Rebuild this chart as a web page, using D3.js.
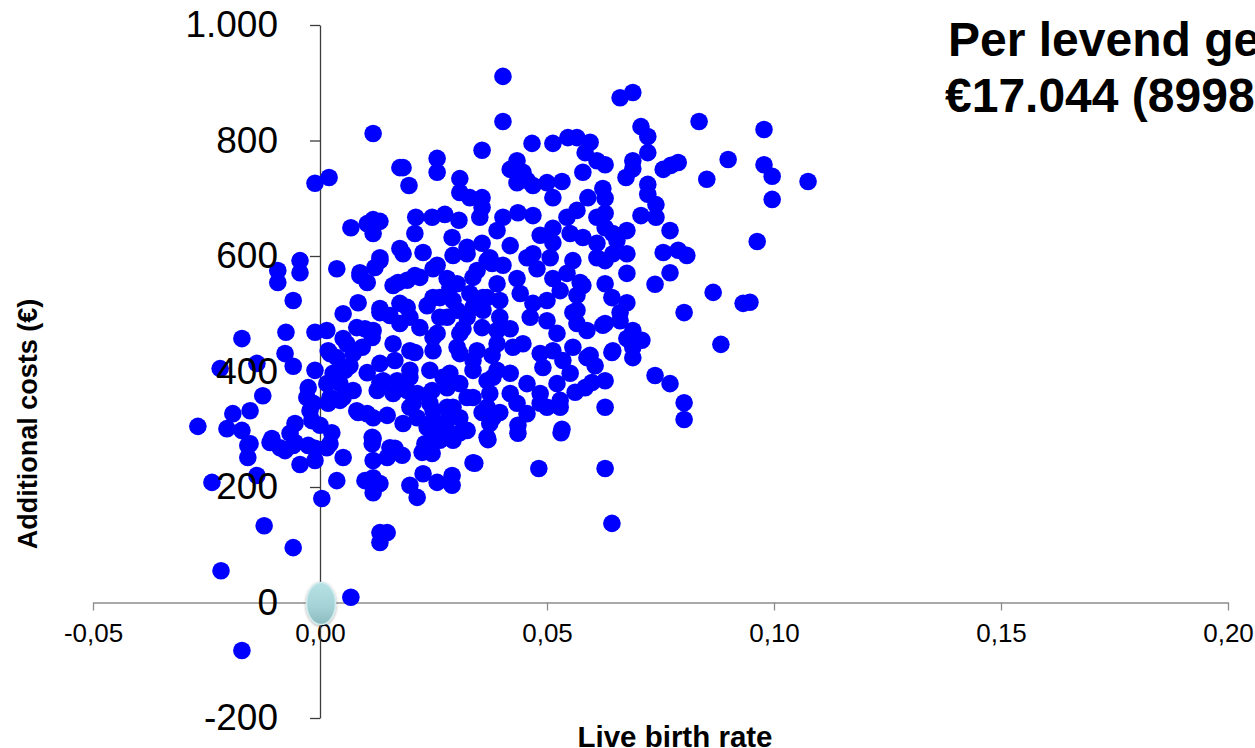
<!DOCTYPE html>
<html lang="en">
<head>
<meta charset="UTF-8">
<title>Live birth rate vs additional costs</title>
<script src="https://d3js.org/d3.v7.min.js"></script>
<style>
  html, body { margin: 0; padding: 0; background: #fff; overflow: hidden; }
  svg { display: block; font-family: "Liberation Sans", Arial, sans-serif; }
</style>
</head>
<body>
<div id="chart"></div>
<script>
// tick values of both axes
const xTicks = [-0.05, 0, 0.05, 0.10, 0.15, 0.20];
const yTicks = [-200, 0, 200, 400, 600, 800, 1000];
const titleLines = ["Per levend geboren", "€17.044 (8998"];
const xTitle = "Live birth rate";
const yTitle = "Additional costs (€)";
// reference point (base case)
const basePoint = [0, 0];

// bootstrap samples: [live birth rate difference, additional costs]
const samples = [
  [-0.0269,305],[-0.0238,208],[-0.0218,55],[-0.0172,-83],[-0.0220,405],[-0.0172,457],[-0.0139,414],[-0.0126,358],
  [-0.0192,327],[-0.0154,332],[-0.0205,301],[-0.0172,298],[-0.0154,275],[-0.0106,284],[-0.0093,575],[-0.0093,554],
  [-0.0044,592],[-0.0044,571],[-0.0059,523],[-0.0075,468],[-0.0077,431],[-0.0059,409],[-0.0011,402],[-0.0011,468],
  [0.0015,471],[0.0037,578],[-0.0026,372],[-0.0029,355],[-0.0015,345],[0.0018,345],[0.0044,350],
  [0.0088,571],[0.0104,554],[0.0132,592],[0.0161,549],[0.0084,519],[0.0051,500],[0.0132,502],[0.0099,474],
  [0.0117,471],[0.0154,497],[0.0161,448],[0.0018,436],[0.0059,448],[0.0037,424],[0.0073,431],[0.0055,402],
  [0.0104,398],[0.0132,414],[0.0139,384],[0.0073,367],[0.0022,355],[0.0051,355],[0.0084,329],[0.0117,320],
  [0.0148,324],[0.0161,362],[-0.0055,310],[-0.0018,315],[0.0000,307],[-0.0066,293],[-0.0088,268],[-0.0059,272],
  [-0.0026,272],[0.0015,268],[0.0026,294],[0.0117,284],[0.0154,268],
  [-0.0159,272],[-0.0159,251],[-0.0110,277],[-0.0077,263],[-0.0055,277],[-0.0044,239],[-0.0011,246],[-0.0011,267],
  [0.0051,251],[0.0037,211],[0.0004,180],[-0.0139,220],[-0.0123,133],[-0.0059,95],[0.0068,9],[0.0115,275],
  [0.0117,246],[0.0148,251],[0.0165,267],[0.0181,255],[0.0099,211],[0.0117,216],[0.0132,206],[0.0117,190],
  [0.0198,203],[0.0214,182],[0.0227,223],[0.0258,208],[0.0291,220],[0.0291,203],[0.0225,260],[0.0247,258],
  [0.0337,242],[0.0132,121],[0.0148,121],[0.0132,104],[0.0264,281],[0.0293,281],
  [0.0117,812],[-0.0011,726],[0.0020,736],[0.0176,753],[0.0068,649],[0.0104,656],[0.0117,663],[0.0132,660],
  [0.0117,639],[0.0176,613],[0.0132,597],
  [0.0403,911],[0.0661,874],[0.0403,833],[0.0357,783],[0.0467,795],[0.0513,795],[0.0546,805],[0.0566,805],
  [0.0595,797],[0.0584,779],[0.0610,765],[0.0628,758],[0.0579,745],[0.0434,765],[0.0419,750],[0.0447,745],
  [0.0434,727],[0.0456,731],[0.0469,722],[0.0500,727],[0.0533,729],[0.0513,701],[0.0258,769],[0.0258,745],
  [0.0183,753],[0.0196,722],[0.0308,734],[0.0308,710],[0.0330,701],[0.0357,701],[0.0357,684],[0.0211,667],
  [0.0247,667],[0.0275,672],[0.0306,662],[0.0352,667],[0.0403,667],[0.0436,675],[0.0469,670],[0.0485,636],
  [0.0544,667],[0.0513,648],[0.0566,679],[0.0590,701],[0.0623,717],[0.0628,700],[0.0209,639],[0.0291,632],
  [0.0227,606],[0.0324,615],[0.0357,622],[0.0390,644],[0.0419,618],[0.0469,604],[0.0513,623],[0.0551,639],
  [0.0579,632],[0.0610,667],[0.0610,622],[0.0645,639],[0.0183,604],[0.0293,601],[0.0374,597],[0.0610,597],
  [0.0645,604],
  [0.0689,883],[0.0707,824],[0.0722,807],[0.0722,779],[0.0689,765],[0.0689,751],[0.0674,736],[0.0756,750],
  [0.0773,757],[0.0789,762],[0.0835,833],[0.0899,767],[0.0852,733],[0.0978,819],[0.0978,758],[0.0996,738],
  [0.1075,729],[0.0996,698],[0.0963,625],[0.0722,724],[0.0722,707],[0.0740,689],[0.0740,667],[0.0707,670],
  [0.0628,649],[0.0676,644],[0.0654,627],[0.0771,644],[0.0756,606],[0.0789,610],[0.0808,601],[0.0676,604],
  [0.0628,674],
  [0.0628,592],[0.0676,570],[0.0771,571],[0.0738,551],[0.0628,552],[0.0643,528],[0.0676,519],[0.0866,537],
  [0.0932,518],[0.0947,520],[0.0802,502],[0.0661,502],[0.0661,488],[0.0628,483],[0.0689,471],[0.0676,457],
  [0.0709,454],[0.0689,442],[0.0689,424],[0.0643,433],[0.0883,447],[0.0738,393],[0.0771,379],[0.0802,346],
  [0.0802,317],[0.0628,338],
  [0.0370,282],[0.0341,241],[0.0436,293],[0.0531,294],[0.0482,232],[0.0628,232],[0.0643,137],[0.0436,307],
  [0.0533,300],[0.0584,372],[0.0599,381],[0.0645,436],[0.0573,554],[0.0566,506],[0.0595,428],[0.0551,397],
  [0.0500,338],[0.0529,338],[0.0485,345],[0.0396,329],[0.0357,329],[0.0324,298],[0.0286,294],[0.0249,294],
  [0.0628,384],[0.0529,350],[0.0562,364],[0.0606,410],
  [0.0088,566],[0.0121,580],[0.0172,554],[0.0209,566],[0.0249,578],[0.0280,561],[0.0302,552],[0.0346,575],
  [0.0379,587],[0.0132,509],[0.0176,518],[0.0198,494],[0.0236,514],[0.0264,528],[0.0302,506],[0.0337,511],
  [0.0368,528],[0.0264,494],[0.0220,476],[0.0176,483],[0.0081,476],[0.0051,457],[0.0022,431],[0.0093,442],
  [0.0115,459],[0.0249,459],[0.0315,474],[0.0357,476],[0.0390,471],[0.0209,433],[0.0249,436],[0.0302,442],
  [0.0337,419],[0.0379,428],[0.0165,419],[0.0066,410],[0.0029,397],[0.0015,379],[0.0044,379],[0.0132,381],
  [0.0170,384],[0.0198,390],[0.0242,402],[0.0271,390],[0.0308,379],[0.0368,384],[0.0390,402],[0.0247,367],
  [0.0214,362],[0.0126,367],[-0.0022,332],[0.0081,332],[0.0104,327],[0.0198,338],[0.0242,345],[0.0280,338],
  [0.0337,355],[0.0308,320],[0.0368,338],[0.0381,320],[0.0183,310],[0.0214,320],[0.0249,315],[0.0264,298],
  [0.0308,294],[0.0115,286],[0.0022,275],[0.0368,286],[0.0231,275],
  [0.0324,604],[0.0368,592],[0.0403,584],[0.0456,597],[0.0507,597],[0.0557,592],[0.0258,584],[0.0192,558],
  [0.0220,563],[0.0286,545],[0.0337,563],[0.0390,552],[0.0434,561],[0.0478,578],[0.0513,561],[0.0544,570],
  [0.0579,549],[0.0249,528],[0.0293,523],[0.0330,535],[0.0359,528],[0.0396,523],[0.0441,535],[0.0469,518],
  [0.0500,523],[0.0529,540],[0.0566,532],[0.0557,502],[0.0566,483],[0.0588,471],[0.0623,480],[0.0192,511],
  [0.0280,494],[0.0324,494],[0.0359,506],[0.0396,494],[0.0419,474],[0.0463,494],[0.0500,488],[0.0522,466],
  [0.0258,466],[0.0308,466],[0.0198,436],[0.0308,431],[0.0346,436],[0.0390,448],[0.0425,442],[0.0447,448],
  [0.0485,431],[0.0513,436],[0.0557,442],[0.0535,419],[0.0491,407],[0.0588,424],[0.0198,402],[0.0286,397],
  [0.0337,402],[0.0381,390],[0.0419,397],[0.0456,379],[0.0522,379],[0.0485,362],[0.0192,367],[0.0280,372],
  [0.0324,355],[0.0374,362],[0.0419,362],[0.0205,345],[0.0249,332],[0.0293,338],[0.0434,345],[0.0236,303],
  [0.0280,315],[0.0374,310],[0.0456,327]
];

const width = 1255;
const height = 748;

// Dutch number style: 0,05 and 1.000
const nl = d3.formatLocale({decimal: ",", thousands: ".", grouping: [3], currency: ["€", ""], minus: "-"});
const fmtX = nl.format(".2f");
const fmtY = nl.format(",d");

const x = d3.scaleLinear().domain([-0.05, 0.20]).range([93, 1228]);
const y = d3.scaleLinear().domain([-200, 1000]).range([718, 25]);

const svg = d3.select('#chart').append('svg')
  .attr('width', width)
  .attr('height', height);

const defs = svg.append('defs');
const grad = defs.append('linearGradient')
  .attr('id', 'baseFill').attr('x1', 0).attr('y1', 0).attr('x2', 0).attr('y2', 1);
grad.append('stop').attr('offset', '0%').attr('stop-color', '#b6e2e5');
grad.append('stop').attr('offset', '55%').attr('stop-color', '#a6d3d7');
grad.append('stop').attr('offset', '100%').attr('stop-color', '#8cbcc0');
const shadow = defs.append('filter').attr('id', 'soft').attr('x', '-50%').attr('y', '-50%').attr('width', '200%').attr('height', '200%');
shadow.append('feGaussianBlur').attr('in', 'SourceAlpha').attr('stdDeviation', 1.5).attr('result', 'b');
shadow.append('feOffset').attr('in', 'b').attr('dx', 0).attr('dy', 1).attr('result', 'o');
shadow.append('feComponentTransfer').attr('in', 'o').attr('result', 'o2')
  .append('feFuncA').attr('type', 'linear').attr('slope', 0.35);
const merge = shadow.append('feMerge');
merge.append('feMergeNode').attr('in', 'o2');
merge.append('feMergeNode').attr('in', 'SourceGraphic');

// x axis (horizontal line through 0)
const gX = svg.append('g')
  .attr('transform', `translate(0, ${y(0)})`)
  .call(d3.axisBottom(x).tickValues(xTicks).tickFormat(fmtX).tickSize(8).tickSizeOuter(0).tickPadding(13));
gX.select('.domain').attr('stroke', '#8c8c8c').attr('stroke-width', 1.3);
gX.selectAll('.tick line').attr('stroke', '#8c8c8c').attr('stroke-width', 1.3);
gX.selectAll('.tick text').attr('font-size', 26).attr('fill', '#000')
  .attr('font-family', '"Liberation Sans", Arial, sans-serif');

// y axis line and ticks (below the dots)
const yAxisLines = d3.axisLeft(y).tickValues(yTicks).tickFormat('').tickSize(10).tickSizeOuter(0);
const gY = svg.append('g').attr('transform', `translate(${x(0)}, 0)`).call(yAxisLines);
gY.select('.domain').attr('stroke', '#3c3c3c').attr('stroke-width', 1.3);
gY.selectAll('.tick line').attr('stroke', '#3c3c3c').attr('stroke-width', 1.3);

// samples
svg.append('g').selectAll('circle')
  .data(samples)
  .enter().append('circle')
  .attr('cx', d => x(d[0]))
  .attr('cy', d => y(d[1]))
  .attr('r', 8.8)
  .attr('fill', '#0000ff');

// y tick labels (drawn over the dots)
const yAxisText = d3.axisLeft(y).tickValues(yTicks).tickFormat(fmtY).tickSize(10).tickSizeOuter(0).tickPadding(32);
const gYt = svg.append('g').attr('transform', `translate(${x(0)}, 0)`).call(yAxisText);
gYt.select('.domain').remove();
gYt.selectAll('.tick line').remove();
gYt.selectAll('.tick text').attr('font-size', 37).attr('fill', '#000')
  .attr('font-family', '"Liberation Sans", Arial, sans-serif');

// base case marker at the origin
svg.append('ellipse')
  .attr('cx', x(basePoint[0]) + 1)
  .attr('cy', y(basePoint[1]) + 1)
  .attr('rx', 14.5)
  .attr('ry', 21)
  .attr('fill', 'url(#baseFill)')
  .attr('stroke', '#d2ecee')
  .attr('stroke-width', 1.5)
  .attr('filter', 'url(#soft)');

// axis titles
svg.append('text')
  .attr('x', 675).attr('y', 747)
  .attr('text-anchor', 'middle')
  .attr('font-size', 29.5).attr('font-weight', 'bold')
  .text(xTitle);

svg.append('text')
  .attr('transform', 'translate(37, 424) rotate(-90)')
  .attr('text-anchor', 'middle')
  .attr('font-size', 27).attr('font-weight', 'bold')
  .text(yTitle);

// title block (runs off the right edge)
svg.selectAll('.title')
  .data(titleLines)
  .enter().append('text')
  .attr('class', 'title')
  .attr('x', (d, i) => i === 0 ? 948 : 945)
  .attr('y', (d, i) => 56 + i * 56)
  .attr('font-size', 48).attr('font-weight', 'bold')
  .text(d => d);
</script>
</body>
</html>
